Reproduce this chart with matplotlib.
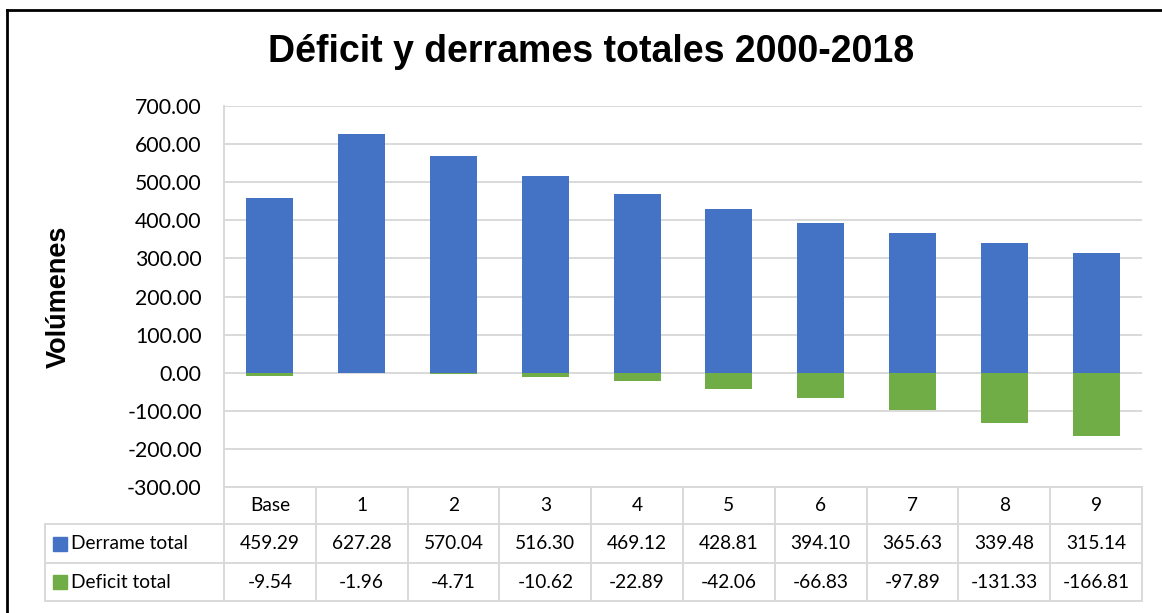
import matplotlib.pyplot as plt
from matplotlib.patches import Rectangle
from matplotlib.lines import Line2D

categorias = ["Base", "1", "2", "3", "4", "5", "6", "7", "8", "9"]
derrame = [459.29, 627.28, 570.04, 516.30, 469.12, 428.81, 394.10, 365.63, 339.48, 315.14]
deficit = [-9.54, -1.96, -4.71, -10.62, -22.89, -42.06, -66.83, -97.89, -131.33, -166.81]
series = ["Derrame total", "Deficit total"]
colores = ["#4472C4", "#70AD47"]

W, H = 1162, 613
fuente = "Lato"
gris = "#D9D9D9"

fig = plt.figure(figsize=(W / 100, H / 100), dpi=100)

# area del grafico (px)
x0, x1, ytop, ybot = 224, 1142, 106, 487
ax = fig.add_axes([x0 / W, 1 - ybot / H, (x1 - x0) / W, (ybot - ytop) / H])
x = list(range(len(categorias)))
ax.bar(x, derrame, width=0.51, color=colores[0], zorder=3)
ax.bar(x, deficit, width=0.51, color=colores[1], zorder=3)
ax.set_xlim(-0.5, len(categorias) - 0.5)
ax.set_ylim(-300, 700)
ax.set_yticks(range(-300, 701, 100))
ax.set_yticklabels([f"{v:.2f}" for v in range(-300, 701, 100)], fontname=fuente, fontsize=15.3)
ax.set_xticks([])
ax.tick_params(axis="y", length=0, pad=16)
ax.grid(axis="y", color=gris, linewidth=1.4, zorder=0)
for s in ["top", "right", "bottom"]:
    ax.spines[s].set_visible(False)
ax.spines["left"].set_color(gris)
ax.spines["left"].set_linewidth(1.4)

fig.text(591 / W, 1 - 52 / H, "Déficit y derrames totales 2000-2018", ha="center", va="center",
         fontname="Liberation Sans", fontweight="bold", fontsize=27)
fig.text(59 / W, 1 - 297 / H, "Volúmenes", ha="center", va="center", rotation=90,
         fontname="Liberation Sans", fontweight="bold", fontsize=19.5)

# tabla de datos
colw = (x1 - x0) / len(categorias)
tleft = 45
filas = [0, 37, 76, 114]
tax = fig.add_axes([tleft / W, 1 - (ybot + filas[-1]) / H, (x1 - tleft) / W, filas[-1] / H])
xl = -0.5 - (x0 - tleft) / colw
tax.set_xlim(xl, len(categorias) - 0.5)
tax.set_ylim(filas[-1], 0)
tax.axis("off")

lw = 1.4
tax.add_line(Line2D([-0.5, len(categorias) - 0.5], [0, 0], color=gris, lw=lw, clip_on=False))
for yy in filas[1:]:
    tax.add_line(Line2D([xl, len(categorias) - 0.5], [yy, yy], color=gris, lw=lw, clip_on=False))
for k in range(len(categorias) + 1):
    tax.add_line(Line2D([k - 0.5, k - 0.5], [0, filas[-1]], color=gris, lw=lw, clip_on=False))
tax.add_line(Line2D([xl, xl], [filas[1], filas[-1]], color=gris, lw=lw, clip_on=False))

def cy(i):
    return (filas[i] + filas[i + 1]) / 2

fs = 13.8
for i, c in enumerate(categorias):
    tax.text(i, cy(0), c, ha="center", va="center", fontname=fuente, fontsize=fs)
    tax.text(i, cy(1), f"{derrame[i]:.2f}", ha="center", va="center", fontname=fuente, fontsize=fs)
    tax.text(i, cy(2), f"{deficit[i]:.2f}", ha="center", va="center", fontname=fuente, fontsize=fs)

sq = 14 / colw
for r, (nombre, col) in enumerate(zip(series, colores)):
    xs = -0.5 - (x0 - 53) / colw
    tax.add_patch(Rectangle((xs, cy(r + 1) - 7), sq, 14, color=col, clip_on=False))
    tax.text(-0.5 - (x0 - 71) / colw, cy(r + 1), nombre, ha="left", va="center",
             fontname=fuente, fontsize=fs)

# borde exterior
fig.add_artist(Line2D([7 / W, 1.01], [1 - 10 / H, 1 - 10 / H], color="black", lw=2, transform=fig.transFigure))
fig.add_artist(Line2D([7 / W, 7 / W], [1 - 10 / H, -0.01], color="black", lw=2, transform=fig.transFigure))

fig.savefig("out.png", dpi=100)
